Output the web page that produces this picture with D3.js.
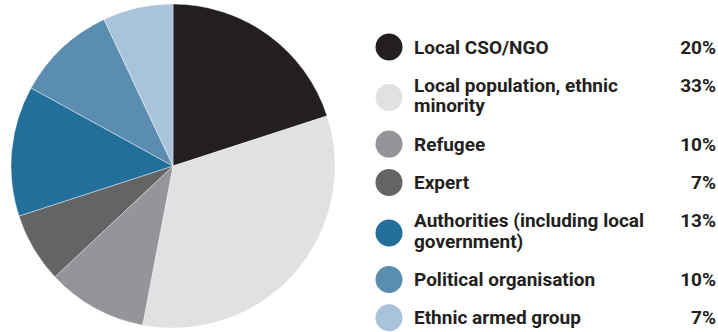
<!DOCTYPE html>
<html>
<head>
<meta charset="utf-8">
<script src="https://cdn.jsdelivr.net/npm/d3@7"></script>
<style>
  body { margin: 0; background: #fff; }
  text { font-family: Roboto, sans-serif; font-weight: 700; fill: #231f20; }
</style>
</head>
<body>
<svg id="chart" width="718" height="332"></svg>
<script>
const categories = [
  'Local CSO/NGO',
  'Local population, ethnic minority',
  'Refugee',
  'Expert',
  'Authorities (including local government)',
  'Political organisation',
  'Ethnic armed group'
]
const shares = [20, 33, 10, 7, 13, 10, 7]
const colors = ['#231f20', '#e0e1e3', '#939598', '#636466', '#236f9b', '#5b8db1', '#a9c3da']

const svg = d3.select('#chart')

const data = categories.map((c, i) => ({ category: c, value: shares[i], color: colors[i] }))

const pie = d3.pie().sort(null).value(d => d.value)
const arc = d3.arc().innerRadius(0).outerRadius(162)

svg.append('g')
    .attr('transform', 'translate(173,166)')
  .selectAll('path')
    .data(pie(data))
  .enter().append('path')
    .attr('d', arc)
    .attr('fill', d => d.data.color)
    .attr('stroke', '#fff')
    .attr('stroke-width', 0.4)

// legend
const legend = svg.append('g')
const fontSize = 19
const wrapWidth = 245
const lineGap = 20.5
const rowGap = 38.3
let y = 47

data.forEach(d => {
  const row = legend.append('g')

  // wrap label into lines, measured with a throwaway text
  const probe = row.append('text').attr('font-size', fontSize)
  const words = d.category.split(' ')
  let lines = []
  let line = []
  words.forEach(w => {
    line.push(w)
    probe.text(line.join(' '))
    if (probe.node().getComputedTextLength() > wrapWidth && line.length > 1) {
      line.pop()
      lines.push(line.join(' '))
      line = [w]
    }
  })
  lines.push(line.join(' '))
  probe.remove()

  lines.forEach((l, i) => {
    row.append('text')
      .attr('x', 414)
      .attr('y', y + i * lineGap)
      .attr('font-size', fontSize)
      .attr('dominant-baseline', 'central')
      .text(l)
  })

  row.append('text')
    .attr('x', 716)
    .attr('y', y)
    .attr('font-size', fontSize)
    .attr('text-anchor', 'end')
    .attr('dominant-baseline', 'central')
    .text(d.value + '%')

  const cy = y + (lines.length - 1) * lineGap / 2 + (lines.length > 1 ? 2 : 0)
  row.append('circle')
    .attr('cx', 389)
    .attr('cy', cy)
    .attr('r', 13.5)
    .attr('fill', d.color)

  y += (lines.length - 1) * lineGap + rowGap
})
</script>
</body>
</html>
